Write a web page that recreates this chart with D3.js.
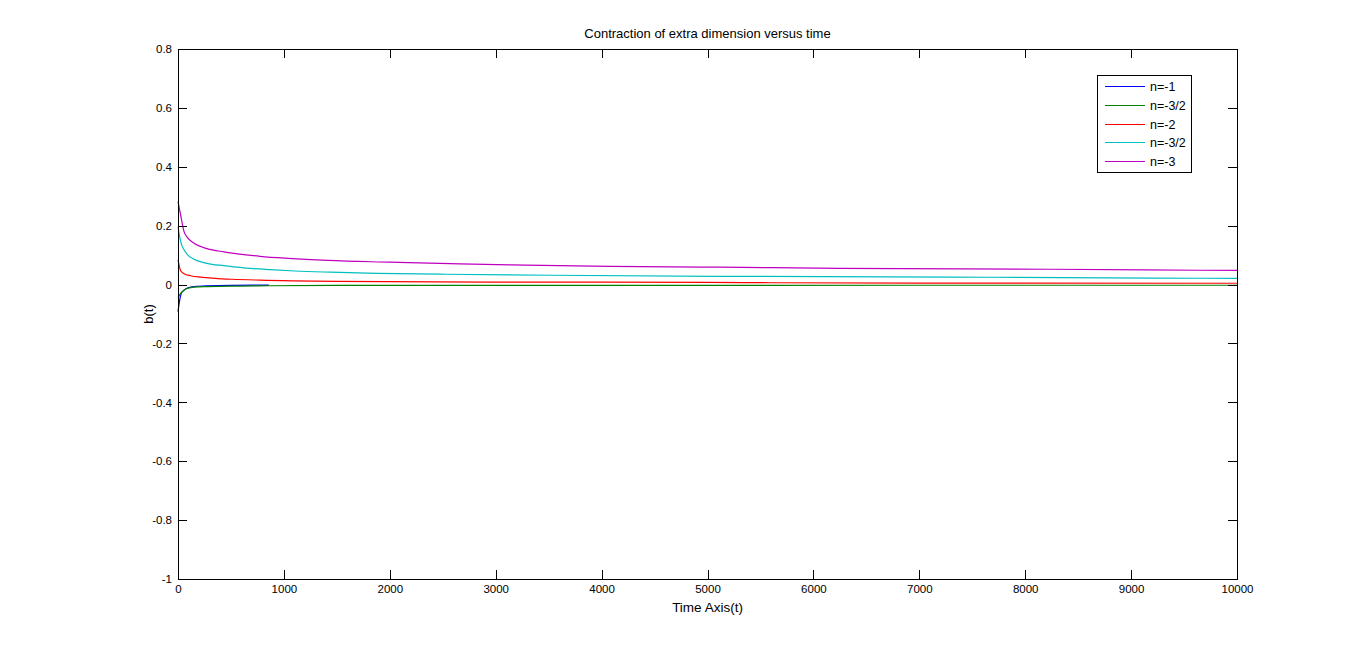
<!DOCTYPE html>
<html>
<head>
<meta charset="utf-8">
<script src="https://cdn.jsdelivr.net/npm/d3@7"></script>
<style>
  html, body { margin: 0; padding: 0; background: #fff; }
  svg { display: block; }
  text { font-family: "Liberation Sans", Arial, sans-serif; }
</style>
</head>
<body>
<svg id="chart" width="1366" height="652"></svg>
<script>
// ---- data ----
const titleText = "Contraction of extra dimension versus time";
const xLabelText = "Time Axis(t)";
const yLabelText = "b(t)";
const xTicks = [0, 1000, 2000, 3000, 4000, 5000, 6000, 7000, 8000, 9000, 10000];
const yTicks = [-1, -0.8, -0.6, -0.4, -0.2, 0, 0.2, 0.4, 0.6, 0.8];
const legendLabels = ["n=-1", "n=-3/2", "n=-2", "n=-3/2", "n=-3"];
const seriesColors = ["#0000ff", "#008000", "#ff0000", "#00bfbf", "#bf00bf"];

// n=-1 (blue)
const tBlue = [0, 19, 31, 57, 104, 151, 274, 500, 859];
const bBlue = [-0.092, -0.047, -0.030, -0.019, -0.010, -0.007, -0.004, -0.0025, -0.002];
// n=-3/2 (green)
const tGreen = [0, 15, 41, 73, 151, 274, 600, 859, 1500, 4000, 7000, 10000];
const bGreen = [-0.045, -0.035, -0.024, -0.015, -0.009, -0.007, -0.005, -0.004, -0.003, -0.0025, -0.0024, -0.0024];
// n=-2 (red)
const tRed = [0, 8, 15, 25, 57, 120, 214, 350, 510, 774, 1500, 3000, 5000, 5600, 7000, 10000];
const bRed = [0.084, 0.070, 0.058, 0.047, 0.037, 0.030, 0.025, 0.021, 0.018, 0.0150, 0.011, 0.0085, 0.0076, 0.0062, 0.0048, 0.0044];
// n=-3/2 (cyan)
const tCyan = [0, 25, 57, 88, 151, 274, 434, 529, 642, 869, 1105, 1435, 1879, 2530, 3513, 5080, 7668, 9650, 10000];
const bCyan = [0.197, 0.146, 0.118, 0.102, 0.086, 0.072, 0.064, 0.060, 0.056, 0.0505, 0.046, 0.042, 0.038, 0.035, 0.0316, 0.028, 0.0248, 0.0214, 0.021];
// n=-3 (magenta)
const tMagenta = [0, 25, 57, 88, 151, 274, 434, 529, 642, 774, 1039, 1416, 2002, 2663, 3277, 4079, 5118, 6251, 8234, 9650, 10000];
const bMagenta = [0.282, 0.236, 0.180, 0.160, 0.140, 0.122, 0.111, 0.106, 0.101, 0.096, 0.089, 0.082, 0.076, 0.070, 0.0662, 0.062, 0.059, 0.055, 0.052, 0.0486, 0.048];

const seriesT = [tBlue, tGreen, tRed, tCyan, tMagenta];
const seriesB = [bBlue, bGreen, bRed, bCyan, bMagenta];

// ---- layout ----
const L = 178, R = 1237, T = 49, B = 579;
const svg = d3.select("#chart");
const x = d3.scaleLinear().domain([0, 10000]).range([L, R]);
const y = d3.scaleLinear().domain([-1, 0.8]).range([B, T]);
const tickLen = 9;

// series
const line = d3.line().x(d => x(d[0])).y(d => y(d[1])).curve(d3.curveMonotoneX);
const plot = svg.append("g");
seriesT.forEach((ts, i) => {
  const pts = ts.map((t, k) => [t, seriesB[i][k]]);
  plot.append("path")
    .attr("d", line(pts))
    .attr("fill", "none")
    .attr("stroke", seriesColors[i])
    .attr("stroke-width", 1.2);
});

// axes (MATLAB-style inward ticks, box on)
const fontSize = 11.5;
const fmtY = d => String(+d.toFixed(1));
const xAxisB = d3.axisBottom(x).tickValues(xTicks).tickSizeInner(-tickLen).tickSizeOuter(0).tickPadding(6).tickFormat(d3.format("d"));
const xAxisT = d3.axisTop(x).tickValues(xTicks).tickSizeInner(-tickLen).tickSizeOuter(0).tickFormat("");
const yAxisL = d3.axisLeft(y).tickValues(yTicks).tickSizeInner(-tickLen).tickSizeOuter(0).tickPadding(6).tickFormat(fmtY);
const yAxisR = d3.axisRight(y).tickValues(yTicks).tickSizeInner(-tickLen).tickSizeOuter(0).tickFormat("");

function styleAxis(g) {
  g.selectAll("path.domain").attr("stroke", "#000").attr("stroke-width", 1).attr("shape-rendering", "crispEdges");
  g.selectAll(".tick line").attr("stroke", "#000").attr("shape-rendering", "crispEdges");
  g.selectAll(".tick text").attr("fill", "#000").attr("font-size", fontSize).attr("font-family", "'Liberation Sans', Arial, sans-serif");
}
svg.append("g").attr("transform", `translate(0,${B})`).call(xAxisB).call(styleAxis);
svg.append("g").attr("transform", `translate(0,${T})`).call(xAxisT).call(styleAxis);
svg.append("g").attr("transform", `translate(${L},0)`).call(yAxisL).call(styleAxis);
svg.append("g").attr("transform", `translate(${R},0)`).call(yAxisR).call(styleAxis);

// title and labels
svg.append("text").attr("x", (L + R) / 2).attr("y", 38).attr("text-anchor", "middle")
  .attr("font-size", 13).text(titleText);
svg.append("text").attr("x", (L + R) / 2).attr("y", 612).attr("text-anchor", "middle")
  .attr("font-size", 13.5).text(xLabelText);
svg.append("text").attr("transform", `translate(153,${(T + B) / 2}) rotate(-90)`).attr("text-anchor", "middle")
  .attr("font-size", 13).text(yLabelText);

// legend
const lg = svg.append("g");
lg.append("rect").attr("x", 1097.5).attr("y", 75.5).attr("width", 94).attr("height", 97)
  .attr("fill", "#fff").attr("stroke", "#000").attr("stroke-width", 1);
const legY = d3.scalePoint().domain(d3.range(legendLabels.length)).range([86, 161]);
legendLabels.forEach((lab, i) => {
  const yy = Math.round(legY(i)) + 0.5;
  lg.append("line").attr("x1", 1105).attr("x2", 1145).attr("y1", yy).attr("y2", yy)
    .attr("stroke", seriesColors[i]).attr("stroke-width", 1);
  lg.append("text").attr("x", 1150).attr("y", yy + 4.5).attr("font-size", 12.5).text(lab);
});
</script>
</body>
</html>
